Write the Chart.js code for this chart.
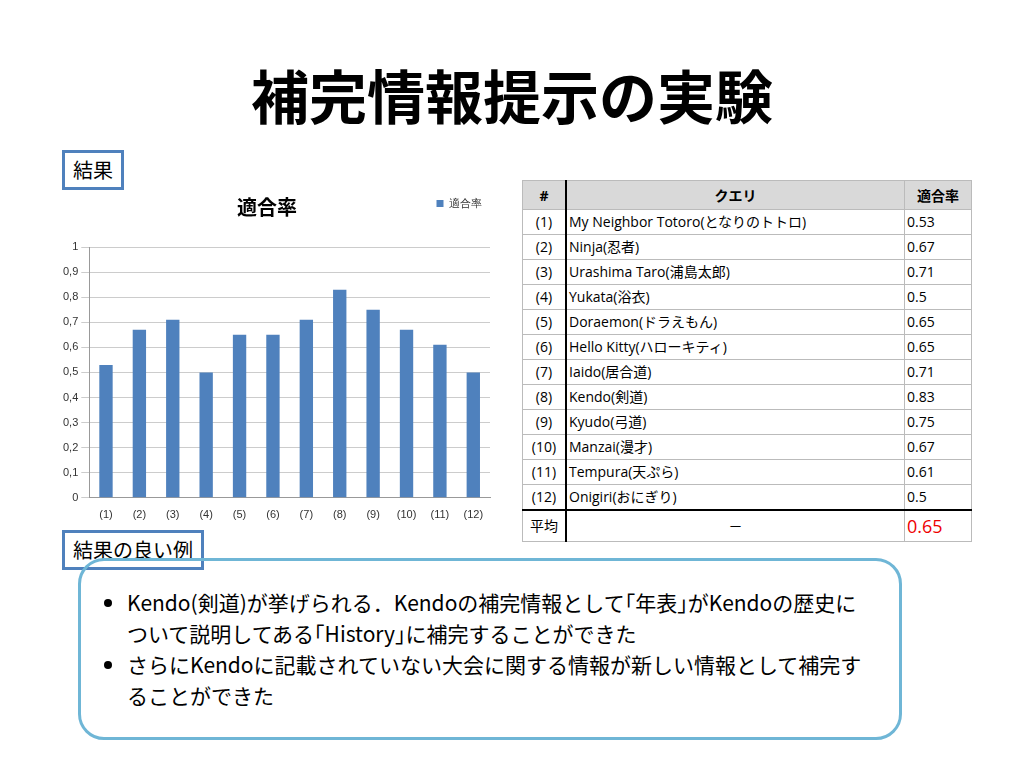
<!DOCTYPE html>
<html><head><meta charset="utf-8">
<script src="https://cdn.jsdelivr.net/npm/chart.js@4"></script>
<style>
body{margin:0;width:1024px;height:768px;background:#fff;font-family:"Noto Sans CJK JP","Noto Sans",sans-serif;position:relative;overflow:hidden}
.abs{position:absolute}
#title{left:0;width:1024px;top:52px;text-align:center;font-size:58px;color:#000;font-weight:bold}
.lbl{border:3px solid #4f81bd;background:#fff;font-size:20px;padding:2px 8px;line-height:30px}
table{border-collapse:collapse;font-size:14px;font-family:"Open Sans","Noto Sans CJK JP",sans-serif}
td{border:1px solid #bbb;height:24px;padding:0 2px;line-height:22px}
th{background:#d9d9d9;height:26px;font-weight:bold;border:1px solid #bbb}
.sep{border-right:2px solid #000}
#box{left:78px;top:558px;width:818px;height:176px;border:3px solid #6fb6d6;border-radius:26px}
#box ul{margin:26px 0 0 22px;padding-left:24px;font-size:21px;line-height:31px;width:735px}
</style></head><body>
<div id="title" class="abs">補完情報提示の実験</div>
<div class="abs lbl" style="left:62px;top:150px">結果</div>
<div class="abs" style="left:60px;top:185px;width:435px;height:340px"><canvas id="c"></canvas></div>
<div class="abs" style="left:237px;top:192px;font-size:20px;font-weight:bold">適合率</div>
<table class="abs" style="left:522px;top:180px;width:450px" id="t"></table>
<div class="abs lbl" style="left:62px;top:530px">結果の良い例</div>
<div id="box" class="abs"><ul>
<li>Kendo(剣道)が挙げられる．Kendoの補完情報として｢年表｣がKendoの歴史について説明してある｢History｣に補完することができた</li>
<li>さらにKendoに記載されていない大会に関する情報が新しい情報として補完することができた</li></ul></div>
<script>
const categories=["(1)","(2)","(3)","(4)","(5)","(6)","(7)","(8)","(9)","(10)","(11)","(12)"];
const queries=["My Neighbor Totoro(となりのトトロ)","Ninja(忍者)","Urashima Taro(浦島太郎)","Yukata(浴衣)","Doraemon(ドラえもん)","Hello Kitty(ハローキティ)","Iaido(居合道)","Kendo(剣道)","Kyudo(弓道)","Manzai(漫才)","Tempura(天ぷら)","Onigiri(おにぎり)"];
const values=[0.53,0.67,0.71,0.5,0.65,0.65,0.71,0.83,0.75,0.67,0.61,0.5];
const average=0.65;
let h='<tr><th class="sep" style="width:40px">#</th><th>クエリ</th><th style="width:64px">適合率</th></tr>';
categories.forEach((c,i)=>{h+=`<tr><td class="sep" style="text-align:center">${c}</td><td>${queries[i]}</td><td>${values[i]}</td></tr>`});
h+=`<tr><td class="sep" style="text-align:center;border-top:2px solid #000;height:30px">平均</td><td style="text-align:center;border-top:2px solid #000">－</td><td style="color:#e00;font-size:18px;border-top:2px solid #000">${average}</td></tr>`;
document.getElementById('t').innerHTML=h;
const legendGap={id:'legendGap',beforeInit(chart){const f=chart.legend.fit;chart.legend.fit=function(){f.bind(chart.legend)();this.height+=28;};}};
new Chart(document.getElementById('c'),{type:'bar',plugins:[legendGap],
data:{labels:categories,datasets:[{label:'適合率',data:values,backgroundColor:'#4f81bd',barPercentage:0.4,categoryPercentage:1}]},
options:{responsive:true,maintainAspectRatio:false,animation:false,
layout:{padding:{top:5,right:5}},
plugins:{legend:{position:'top',align:'end',labels:{boxWidth:7,boxHeight:7,font:{size:11},color:'#333',padding:8}}},
scales:{y:{min:0,max:1,ticks:{stepSize:0.1,font:{size:11},color:'#333',callback:v=>String(Math.round(v*10)/10).replace('.',',')},grid:{color:'#ccc'},border:{color:'#999'}},
x:{grid:{display:false},ticks:{font:{size:11},color:'#333'},border:{color:'#999'}}}}});
</script></body></html>
